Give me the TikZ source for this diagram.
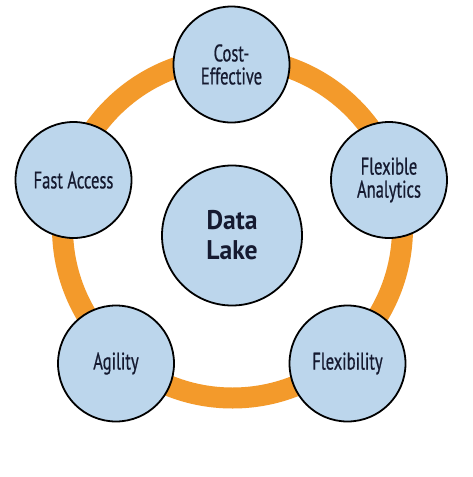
\documentclass[tikz,border=0pt]{standalone}
\usepackage{fontspec}
\setmainfont[FakeStretch=0.69,FakeBold=0.6]{PT Sans}
\newfontfamily\hubfont[FakeStretch=0.95]{PT Sans Bold}
\definecolor{ringor}{HTML}{F39A2B}
\definecolor{bubble}{HTML}{BCD6EC}
\definecolor{ink}{HTML}{151A30}
\begin{document}
\begin{tikzpicture}[x=1pt,y=-1pt,
  bub/.style={circle,draw=black,line width=1.8pt,fill=bubble,minimum size=116pt,inner sep=0pt,
    align=center,text=ink,font=\fontsize{24}{23}\selectfont},
  hub/.style={bub,minimum size=140pt,font=\fontsize{27}{30}\hubfont}]
\useasboundingbox (0,0) rectangle (473,477);
\fill[white] (0,0) rectangle (473,477);
\coordinate (rc) at (232.5,228);
\draw[ringor,line width=21pt] (rc) circle[radius=170];
\node[hub] (dl) at (232,235.5) {Data\\Lake};
\node[bub] (ce) at (231.5,64.5) {Cost-\\Effective};
\node[bub] (fa) at (389,180) {Flexible\\Analytics};
\node[bub] (fl) at (347.5,363.5) {Flexibility};
\node[bub] (ag) at (116,363.5) {Agility};
\node[bub] (fs) at (73.5,180) {Fast Access};
\end{tikzpicture}
\end{document}
